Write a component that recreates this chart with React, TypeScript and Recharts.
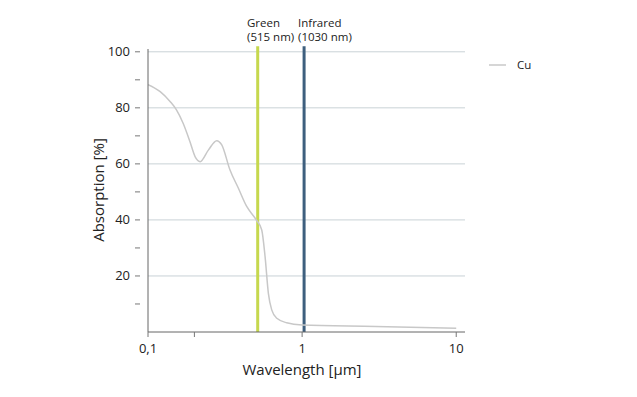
import { LineChart, Line, XAxis, YAxis, CartesianGrid, ReferenceLine, Customized } from 'recharts'

// Cu absorption vs wavelength (µm)
const wavelength = [0.1, 0.12, 0.139, 0.153, 0.169, 0.187, 0.202, 0.218, 0.247, 0.279, 0.301, 0.34, 0.386, 0.437, 0.5, 0.547, 0.575, 0.604, 0.635, 0.685, 0.794, 1.0, 3, 10]
const absorption = [88.3, 85.8, 82.3, 79.3, 74.5, 68.0, 62.6, 60.8, 65.0, 68.3, 66.8, 57.9, 51.3, 44.8, 40.3, 36.4, 26.9, 13.8, 7.9, 4.9, 3.3, 2.5, 2.0, 1.3]

const xTicks = [0.1, 0.2, 1, 10]
const xLabels: Record<string, string> = { '0.1': '0,1', '1': '1', '10': '10' }
const yTicks = [10, 20, 30, 40, 50, 60, 70, 80, 90, 100]
const gridY = [20, 40, 60, 80, 100]

const lasers = [
  { x: 0.515, name: 'Green', sub: '(515 nm)', color: '#c6d84e' },
  { x: 1.03, name: 'Infrared', sub: '(1030 nm)', color: '#3e5f7e' },
]

const data = wavelength.map((w, i) => ({ w, cu: absorption[i] }))

const font = '"Open Sans", "Noto Sans", sans-serif'
const textColor = '#222'

function YTick(props: any) {
  const { x, y, payload } = props
  const major = payload.value % 20 === 0
  return (
    <g>
      <line x1={x - 5} x2={x} y1={y} y2={y} stroke="#777" strokeWidth={1} />
      {major && (
        <text x={x - 10} y={y} dy={4.5} textAnchor="end" fontSize={13} fill={textColor} fontFamily={font}>
          {payload.value}
        </text>
      )}
    </g>
  )
}

function XTick(props: any) {
  const { x, y, payload } = props
  const label = xLabels[String(payload.value)]
  return (
    <g>
      <line x1={x} x2={x} y1={y - 8} y2={y - 3} stroke="#777" strokeWidth={1} />
      {label && (
        <text x={x} y={y + 13} textAnchor="middle" fontSize={13} fill={textColor} fontFamily={font}>
          {label}
        </text>
      )}
    </g>
  )
}

function Labels() {
  return (
    <g fontFamily={font} fill={textColor}>
      <text x={104} y={190} fontSize={15} textAnchor="middle" transform="rotate(-90 104 190)">
        Absorption [%]
      </text>
      <text x={302} y={375} fontSize={15} textAnchor="middle">
        Wavelength [µm]
      </text>
      <text x={247} y={27} fontSize={11.5}>Green</text>
      <text x={247} y={41} fontSize={11.5}>(515 nm)</text>
      <text x={298} y={27} fontSize={11.5}>Infrared</text>
      <text x={298} y={41} fontSize={11.5}>(1030 nm)</text>
      <line x1={489} x2={506} y1={65} y2={65} stroke="#c8c8c8" strokeWidth={1.5} />
      <text x={517} y={69} fontSize={11.5}>Cu</text>
    </g>
  )
}

export default function App() {
  return (
    <div style={{ position: 'absolute', left: 0, top: 0, background: '#fff' }}>
      <LineChart
        width={637}
        height={397}
        data={data}
        margin={{ top: 49, right: 172, left: 0, bottom: 20 }}
      >
        <CartesianGrid horizontalValues={gridY} vertical={false} stroke="#c9d2d6" />
        <XAxis
          dataKey="w"
          type="number"
          scale="log"
          domain={[0.1, 11.4]}
          ticks={xTicks}
          allowDataOverflow
          tick={<XTick />}
          tickLine={false}
          axisLine={{ stroke: '#666' }}
          height={45}
        />
        <YAxis
          type="number"
          domain={[0, 101]}
          ticks={yTicks}
          allowDataOverflow
          tick={<YTick />}
          tickLine={false}
          axisLine={{ stroke: '#666' }}
          width={148}
        />
        {lasers.map((l) => (
          <ReferenceLine
            key={l.name}
            segment={[{ x: l.x, y: 0 }, { x: l.x, y: 102 }]}
            ifOverflow="visible"
            stroke={l.color}
            strokeWidth={3}
          />
        ))}
        <Line
          type="monotone"
          dataKey="cu"
          stroke="#c8c8c8"
          strokeWidth={1.5}
          dot={false}
          isAnimationActive={false}
        />
        <Customized component={Labels} />
      </LineChart>
    </div>
  )
}
